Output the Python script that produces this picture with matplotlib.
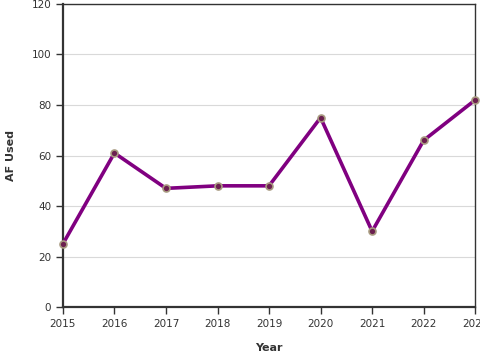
import matplotlib
matplotlib.use('Agg')
import matplotlib.pyplot as plt

# Data
years = [2015, 2016, 2017, 2018, 2019, 2020, 2021, 2022, 2023]
af_used = [25, 61, 47, 48, 48, 75, 30, 66, 82]

fig = plt.figure(figsize=(4.8, 3.6), dpi=100)
ax = fig.add_axes([0.131, 0.147, 0.859, 0.842])

ax.plot(years, af_used, color='#800080', linewidth=2.6, zorder=3,
        marker='o', markersize=5, markerfacecolor='#6b1f4f',
        markeredgecolor='#a89a80', markeredgewidth=1.2, clip_on=False)

ax.set_xlim(2015, 2023)
ax.set_ylim(0, 120)
ax.set_xticks(years)
ax.set_yticks(range(0, 121, 20))
ax.yaxis.grid(True, color='#d9d9d9', linewidth=0.8)
ax.set_axisbelow(True)

for side in ['left', 'bottom']:
    ax.spines[side].set_linewidth(1.6)
    ax.spines[side].set_color('#333333')
for side in ['top', 'right']:
    ax.spines[side].set_linewidth(1.0)
    ax.spines[side].set_color('#333333')

ax.tick_params(axis='both', labelsize=7.5, colors='#333333', length=5, width=1)
ax.set_xlabel('Year', fontsize=8, fontweight='bold', color='#333333', labelpad=10)
ax.set_ylabel('AF Used', fontsize=8, fontweight='bold', color='#333333', labelpad=11)

fig.savefig('out.png', dpi=100)
